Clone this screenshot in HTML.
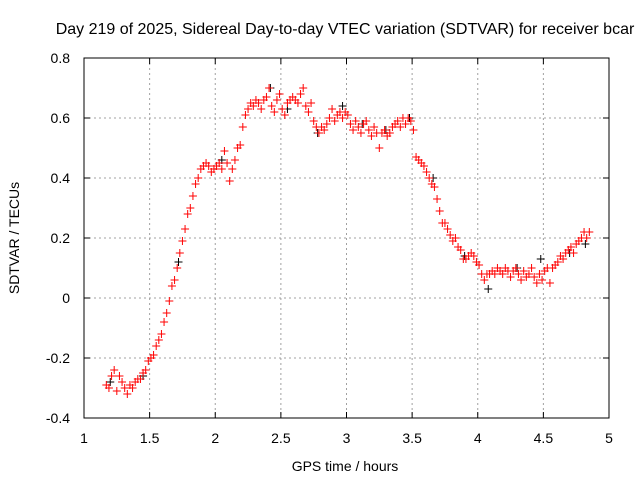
<!DOCTYPE html>
<html><head><meta charset="utf-8"><style>
body{margin:0;background:#fff}
svg{display:block;font-family:"Liberation Sans",sans-serif}
</style></head><body>
<svg id="chart" width="640" height="480" viewBox="0 0 640 480">
<text x="345" y="34" font-size="16" text-anchor="middle">Day 219 of 2025, Sidereal Day-to-day VTEC variation (SDTVAR) for receiver bcar</text>
<g id="grid"></g>
<g id="axes"></g>
<g id="marks"></g>
<text x="345" y="471" font-size="14" text-anchor="middle">GPS time / hours</text>
<text transform="translate(19,238) rotate(-90)" font-size="14" text-anchor="middle">SDTVAR / TECUs</text>
</svg>
<script>
const xTicks=[1,1.5,2,2.5,3,3.5,4,4.5,5];
const xTickLabels=["1","1.5","2","2.5","3","3.5","4","4.5","5"];
const yTicks=[-0.4,-0.2,0,0.2,0.4,0.6,0.8];
const yTickLabels=["-0.4","-0.2","0","0.2","0.4","0.6","0.8"];
const redStart=1.17;
const redStep=0.02;
const redValues=[
-0.29,-0.30,-0.26,-0.24,-0.31,-0.26,-0.28,-0.30,-0.32,-0.29,
-0.30,-0.28,-0.27,-0.27,-0.25,-0.24,-0.21,-0.20,-0.19,-0.16,
-0.14,-0.12,-0.08,-0.05,-0.01,0.04,0.06,0.10,0.15,0.19,
0.23,0.28,0.30,0.34,0.38,0.40,0.43,0.44,0.45,0.44,
0.42,0.43,0.44,0.45,0.43,0.49,0.45,0.39,0.43,0.46,
0.50,0.51,0.57,0.61,0.63,0.65,0.64,0.66,0.65,0.63,
0.66,0.67,0.70,0.64,0.62,0.66,0.68,0.63,0.61,0.65,
0.66,0.67,0.66,0.65,0.68,0.70,0.64,0.62,0.65,0.59,
0.57,0.55,0.57,0.56,0.58,0.60,0.63,0.59,0.61,0.62,
0.60,0.62,0.61,0.58,0.56,0.59,0.57,0.55,0.58,0.59,
0.56,0.54,0.57,0.55,0.50,0.55,0.56,0.54,0.55,0.57,
0.58,0.59,0.57,0.60,0.58,0.60,0.59,0.56,0.47,0.46,
0.45,0.44,0.42,0.40,0.38,0.37,0.33,0.29,0.25,0.25,
0.23,0.21,0.19,0.20,0.17,0.16,0.13,0.13,0.14,0.15,
0.14,0.12,0.11,0.08,0.06,0.08,0.08,0.09,0.08,0.10,
0.09,0.08,0.10,0.09,0.07,0.09,0.10,0.08,0.06,0.09,
0.07,0.08,0.10,0.07,0.05,0.08,0.06,0.09,0.10,0.05,
0.10,0.11,0.12,0.14,0.13,0.15,0.16,0.17,0.15,0.18,
0.19,0.20,0.22,0.20,0.22];
const blackTimes=[1.2,1.45,1.72,2.05,2.42,2.55,2.78,2.97,3.12,3.3,3.48,3.66,3.9,4.08,4.3,4.48,4.7,4.82];
const blackValues=[-0.28,-0.26,0.12,0.46,0.70,0.63,0.55,0.64,0.58,0.56,0.60,0.40,0.14,0.03,0.10,0.13,0.15,0.18];
const NS="http://www.w3.org/2000/svg";
const L=84,R=609,T=58,B=418;
function sx(v){return L+(v-1)/(5-1)*(R-L);}
function sy(v){return B-(v+0.4)/(1.2)*(B-T);}
function mk(tag,attrs,parent){const e=document.createElementNS(NS,tag);for(const k in attrs)e.setAttribute(k,attrs[k]);parent.appendChild(e);return e;}
const grid=document.getElementById('grid'),axes=document.getElementById('axes'),marks=document.getElementById('marks');
xTicks.forEach((t,i)=>{const x=sx(t);
 if(i>0&&i<xTicks.length-1){const g=mk('line',{x1:x,x2:x,y1:T,y2:B,stroke:'#a0a0a0','stroke-dasharray':'2,3'},grid);
 
 }
 mk('line',{x1:x,x2:x,y1:B,y2:B-6,stroke:'#000'},axes);
 mk('line',{x1:x,x2:x,y1:T,y2:T+6,stroke:'#000'},axes);
 const lb=mk('text',{x:x,y:443,'font-size':14,'text-anchor':'middle'},axes);lb.textContent=xTickLabels[i];
 
 });
yTicks.forEach((t,i)=>{const y=sy(t);
 if(i>0&&i<yTicks.length-1){const g=mk('line',{x1:L,x2:R,y1:y,y2:y,stroke:'#a0a0a0','stroke-dasharray':'2,3'},grid);
 
 }
 mk('line',{x1:L,x2:L+6,y1:y,y2:y,stroke:'#000'},axes);
 mk('line',{x1:R,x2:R-6,y1:y,y2:y,stroke:'#000'},axes);
 const lb=mk('text',{x:70,y:y+5,'font-size':14,'text-anchor':'end'},axes);lb.textContent=yTickLabels[i];
 
 });
const fr=mk('rect',{x:L,y:T,width:R-L,height:B-T,fill:'none',stroke:'#000'},axes);


function plus(x,y,c,name){const p=mk('path',{d:`M${x-4},${y}h8M${x},${y-4}v8`,stroke:c,'stroke-width':1,fill:'none'},marks);
 
 }
blackTimes.forEach((t,i)=>plus(sx(t),sy(blackValues[i]),'#000','black-point'));
redValues.forEach((v,i)=>plus(sx(redStart+i*redStep),sy(v),'#ff0000','red-point'));
</script>
</body></html>
